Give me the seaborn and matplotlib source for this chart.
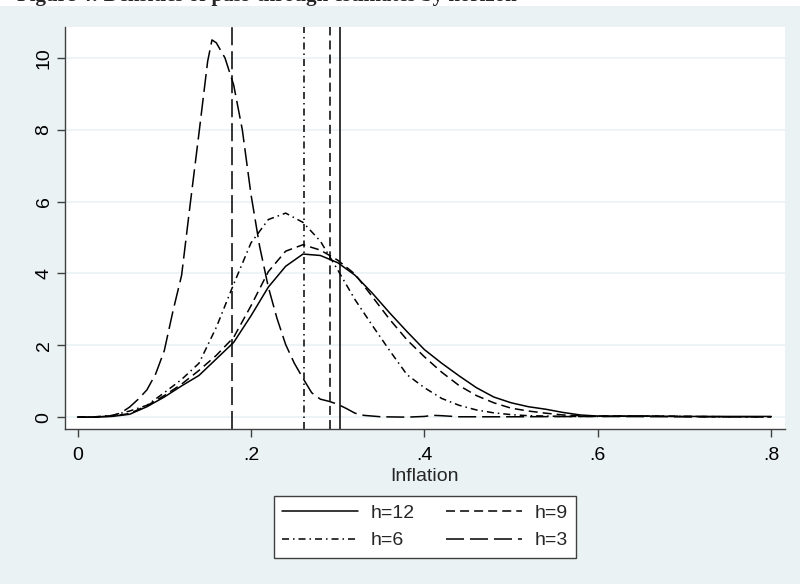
import matplotlib
matplotlib.use('Agg')
import matplotlib.pyplot as plt
import seaborn as sns
from matplotlib.patches import Rectangle

# data
horizons = ['h=12', 'h=9', 'h=6', 'h=3']

x_grid = [0.00, 0.02, 0.04, 0.06, 0.08, 0.10, 0.12, 0.14, 0.16, 0.18,
          0.20, 0.22, 0.24, 0.26, 0.28, 0.30, 0.32, 0.34, 0.36, 0.38,
          0.40, 0.42, 0.44, 0.46, 0.48, 0.50, 0.52, 0.54, 0.56, 0.58,
          0.60, 0.65, 0.70, 0.75, 0.80]
dens_h12 = [0.00, 0.00, 0.02, 0.08, 0.29, 0.56, 0.87, 1.16, 1.62, 2.08,
            2.82, 3.62, 4.20, 4.54, 4.50, 4.30, 3.95, 3.45, 2.90, 2.38,
            1.88, 1.50, 1.15, 0.82, 0.56, 0.40, 0.29, 0.22, 0.13, 0.06,
            0.03, 0.03, 0.02, 0.02, 0.02]
dens_h9 = [0.00, 0.00, 0.03, 0.10, 0.32, 0.60, 0.92, 1.30, 1.72, 2.22,
           3.10, 4.05, 4.62, 4.80, 4.65, 4.37, 3.98, 3.35, 2.72, 2.15,
           1.68, 1.25, 0.88, 0.60, 0.40, 0.25, 0.17, 0.11, 0.06, 0.04,
           0.03, 0.03, 0.02, 0.01, 0.01]
dens_h6 = [0.00, 0.01, 0.05, 0.17, 0.33, 0.68, 1.05, 1.50, 2.50, 3.70,
           4.85, 5.50, 5.68, 5.42, 4.90, 4.10, 3.27, 2.55, 1.85, 1.18,
           0.82, 0.52, 0.33, 0.20, 0.12, 0.07, 0.04, 0.03, 0.02, 0.02,
           0.02, 0.03, 0.02, 0.01, 0.01]

x_h3 = [0.00, 0.02, 0.04, 0.05, 0.06, 0.07, 0.08, 0.09, 0.10, 0.11,
        0.12, 0.13, 0.14, 0.15, 0.155, 0.16, 0.17, 0.18, 0.19, 0.20,
        0.21, 0.22, 0.23, 0.24, 0.25, 0.26, 0.27, 0.28, 0.29, 0.30,
        0.31, 0.32, 0.33, 0.35, 0.38, 0.40, 0.41, 0.42, 0.44, 0.50,
        0.60, 0.70, 0.80]
dens_h3 = [0.00, 0.00, 0.04, 0.12, 0.28, 0.50, 0.76, 1.20, 1.85, 2.95,
           3.95, 5.95, 7.90, 9.90, 10.50, 10.42, 10.00, 9.25, 8.00, 6.20,
           4.75, 3.62, 2.75, 2.02, 1.50, 1.08, 0.68, 0.50, 0.44, 0.36,
           0.24, 0.11, 0.05, 0.01, 0.00, 0.02, 0.05, 0.04, 0.01, 0.01,
           0.02, 0.01, 0.01]

# mean pass-through for each horizon (vertical lines)
means = [0.303, 0.291, 0.261, 0.178]

x_ticks = [0, 0.2, 0.4, 0.6, 0.8]
x_ticklabels = ['0', '.2', '.4', '.6', '.8']
y_ticks = [0, 2, 4, 6, 8, 10]

sns.set_style('white')
plt.rcParams['font.family'] = ['Liberation Sans', 'DejaVu Sans']

bg = '#eaf2f3'
ink = '#404040'
lw = 1.1
styles = {
    'h=12': '-',
    'h=9': (0, (5.9, 3.3)),
    'h=6': (0, (4.6, 2.6, 1.0, 2.6)),
    'h=3': (0, (11.8, 3.9)),
}

fig = plt.figure(figsize=(8, 5.84), dpi=100)
fig.patch.set_facecolor('white')
fig.add_artist(Rectangle((0, 0), 1, 1 - 6 / 584, transform=fig.transFigure,
                         facecolor=bg, edgecolor='none', zorder=-5))

# title of the page, cut off at the top in the original
fig.text(0.021, 1 - 1 / 584, 'Figure 4: Densities of pass-through estimates by horizon',
         family='Liberation Serif', fontweight='bold', fontsize=15, va='baseline')

ax = fig.add_axes([65 / 800, 155 / 584, 720 / 800, 402 / 584])
ax.set_facecolor('white')

xs = [x_grid, x_grid, x_grid, x_h3]
ys = [dens_h12, dens_h9, dens_h6, dens_h3]
for h, x, y in zip(horizons, xs, ys):
    sns.lineplot(x=x, y=y, ax=ax, color='black', lw=lw,
                 linestyle=styles[h], label=h, legend=False)

for h, m in zip(horizons, means):
    ax.axvline(m, color='black', lw=lw, linestyle=styles[h])

ax.set_xlim(-0.0145, 0.8159)
ax.set_ylim(-0.33, 10.86)
ax.set_xticks(x_ticks)
ax.set_xticklabels(x_ticklabels)
ax.set_yticks(y_ticks)
ax.set_yticklabels([str(v) for v in y_ticks], rotation=90, va='center')

ax.set_axisbelow(True)
ax.yaxis.grid(True, color=bg, lw=1.2)
ax.xaxis.grid(False)

for s in ['top', 'right']:
    ax.spines[s].set_visible(False)
for s in ['left', 'bottom']:
    ax.spines[s].set_color(ink)
    ax.spines[s].set_linewidth(1)

ax.tick_params(direction='out', length=6, width=1, color=ink,
               labelsize=14, labelcolor='black', pad=3)
ax.tick_params(axis='x', pad=7)
ax.tick_params(left=True, bottom=True)

ax.set_xlabel('Inflation', fontsize=14, labelpad=3)
ax.set_ylabel('')

# legend below the plot, two columns
handles, labels = ax.get_legend_handles_labels()
order = [0, 2, 1, 3]
leg = fig.legend([handles[i] for i in order], [labels[i] for i in order],
                 loc='center', bbox_to_anchor=(425 / 800, 57 / 584), ncol=2,
                 fontsize=14, handlelength=3.9, handletextpad=0.65,
                 columnspacing=1.6, labelspacing=0.5, borderpad=0.45,
                 frameon=True, fancybox=False, framealpha=1)
leg.get_frame().set_edgecolor(ink)
leg.get_frame().set_linewidth(1)
leg.get_frame().set_facecolor('white')

fig.savefig('out.png', dpi=100)
